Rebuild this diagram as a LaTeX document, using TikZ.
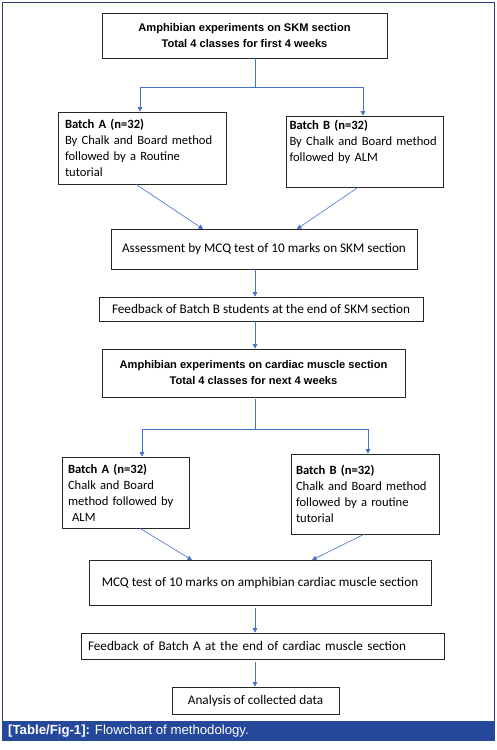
\documentclass[tikz,border=0pt]{standalone}
\usepackage{fontspec}
\setmainfont{Carlito}
\newfontfamily\helv{Liberation Sans}
\usetikzlibrary{arrows.meta}
\definecolor{cbar}{HTML}{25489A}
\definecolor{cframe}{HTML}{2C3E6B}
\definecolor{cline}{HTML}{4472C4}
\begin{document}
\begin{tikzpicture}[x=1pt,y=-1pt,
  box/.style={draw=black!85,line width=0.7pt,inner sep=0pt,anchor=center},
  btxt/.style={font=\fontsize{12.6}{16}\selectfont,align=left},
  boldtxt/.style={font=\helv\bfseries\fontsize{11.1}{16.5}\selectfont,align=center},
  plain/.style={font=\fontsize{13.2}{16}\selectfont},
  conn/.style={draw=cline,line width=0.6pt},
  arr/.style={conn,-{Triangle[length=4.5pt,width=4.5pt]}}
]
\useasboundingbox (0,0) rectangle (497,750);
\fill[white] (0,0) rectangle (497,750);
% frame and caption
\draw[cframe,line width=0.8pt] (2.5,2.5) rectangle (494,721);
\fill[cbar] (2,720.5) rectangle (494.5,740.5);
\node[anchor=west,text=white,font=\helv\fontsize{13.2}{14}\selectfont,inner sep=0pt] (cap) at (8,731) {\textbf{[Table/Fig-1]:} Flowchart of methodology.};

% boxes
\node[box,minimum width=285pt,minimum height=45pt,boldtxt] (b1) at (244.5,35.5) {Amphibian experiments on SKM section\\Total 4 classes for first 4 weeks};
\node[box,minimum width=168pt,minimum height=72pt,btxt,text width=154pt] (a1) at (142,148) {\textbf{Batch A (n=32)}\\By Chalk and Board method\\followed by a Routine\\tutorial};
\node[box,minimum width=157pt,minimum height=71pt,btxt,text width=150pt] (c1) at (364.5,151.5) {\textbf{Batch B (n=32)}\\By Chalk and Board method\\followed by ALM\\\strut};
\node[box,minimum width=306pt,minimum height=40pt,plain] (m1) at (264,249) {Assessment by MCQ test of 10 marks on SKM section};
\node[box,minimum width=324pt,minimum height=24pt,plain] (f1) at (261,309) {Feedback of Batch B students at the end of SKM section};
\node[box,minimum width=303pt,minimum height=48pt,boldtxt,font=\helv\bfseries\fontsize{11.1}{16}\selectfont] (b2) at (253.5,373) {Amphibian experiments on cardiac muscle section\\Total 4 classes for next 4 weeks};
\node[box,minimum width=127pt,minimum height=71pt,btxt,text width=115pt] (a2) at (125.5,492.5) {\textbf{Batch A (n=32)}\\Chalk and Board\\method followed by\\\ ALM};
\node[box,minimum width=148pt,minimum height=80pt,btxt,text width=138pt] (c2) at (365,494) {\textbf{Batch B (n=32)}\\Chalk and Board method\\followed by a routine\\tutorial};
\node[box,minimum width=342pt,minimum height=45pt,plain] (m2) at (260,582.5) {MCQ test of 10 marks on amphibian cardiac muscle section};
\node[box,minimum width=363pt,minimum height=26pt,plain,text width=349pt,align=left] (f2) at (262.5,646) {Feedback of Batch A at the end of cardiac muscle section};
\node[box,minimum width=167pt,minimum height=27pt,plain] (an) at (255.5,700.5) {Analysis of collected data};

% connectors
\coordinate (s1) at (255,87);
\draw[conn] (255,58) -- (s1);
\draw[arr] (s1) -- (140,87) -- (a1.north -| 140,0);
\draw[arr] (s1) -- (363,87) -- (c1.north -| 363,0);
\draw[arr] (a1.south -| 136,0) -- (203,229);
\draw[arr] (c1.south -| 358,0) -- (297,229);
\draw[arr] (m1.south -| 255,0) -- (f1.north -| 255,0);
\draw[arr] (f1.south -| 255,0) -- (b2.north -| 255,0);
\coordinate (s2) at (255,429);
\draw[conn] (255,399) -- (s2);
\draw[arr] (s2) -- (142,429) -- (a2.north -| 142,0);
\draw[arr] (s2) -- (368,429) -- (c2.north -| 368,0);
\draw[arr] (a2.south -| 140,0) -- (192,560);
\draw[arr] (c2.south -| 364,0) -- (312,560);
\draw[arr] (255,608) -- (f2.north -| 255,0);
\draw[arr] (255,662) -- (an.north -| 255,0);
\end{tikzpicture}
\end{document}
